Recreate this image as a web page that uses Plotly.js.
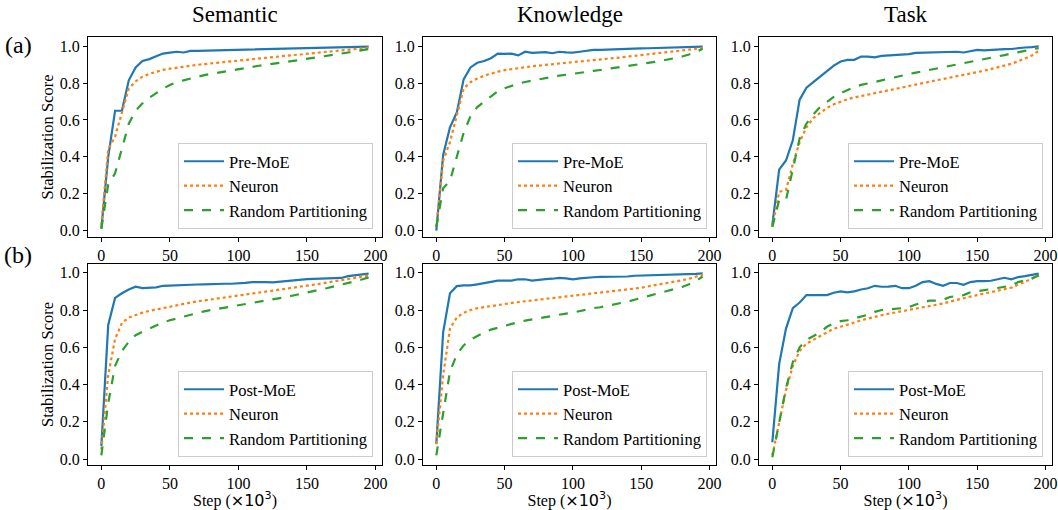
<!DOCTYPE html>
<html><head><meta charset="utf-8">
<script src="https://cdn.plot.ly/plotly-3.0.1.min.js"></script>
<style>body{margin:0;background:#fff}#chart{width:1058px;height:510px}</style>
</head><body><div id="chart"></div>
<script>
const steps = [0,5,10,15,20,25,30,35,40,45,50,55,60,65,70,75,80,85,90,95,100,105,110,115,120,125,130,135,140,145,150,155,160,165,170,175,180,185,190,195];
const columnTitles = ['Semantic','Knowledge','Task'];
const rowLabels = ['(a)','(b)'];
const namesA = ['Pre-MoE','Neuron','Random Partitioning'];
const namesB = ['Post-MoE','Neuron','Random Partitioning'];
const yTickVals = [0,0.2,0.4,0.6,0.8,1.0];
const yTickText = ['0.0','0.2','0.4','0.6','0.8','1.0'];
const xTickVals = [0,50,100,150,200];

// Row (a)
const semPreMoE = [0.01,0.40,0.65,0.65,0.815,0.885,0.92,0.93,0.945,0.96,0.965,0.97,0.966,0.975,0.975,0.976,0.978,0.979,0.98,0.981,0.982,0.982,0.983,0.984,0.984,0.985,0.986,0.987,0.988,0.988,0.989,0.99,0.991,0.992,0.993,0.994,0.995,0.996,0.997,0.998];
const semNeuronA = [0.03,0.44,0.51,0.64,0.77,0.81,0.835,0.85,0.862,0.872,0.878,0.884,0.889,0.894,0.899,0.903,0.907,0.911,0.915,0.919,0.922,0.926,0.93,0.934,0.938,0.941,0.945,0.948,0.952,0.955,0.959,0.962,0.966,0.97,0.973,0.977,0.98,0.984,0.988,0.992];
const semRandomA = [0.01,0.25,0.31,0.45,0.58,0.65,0.69,0.72,0.745,0.77,0.79,0.805,0.815,0.825,0.835,0.843,0.85,0.857,0.864,0.87,0.876,0.882,0.888,0.894,0.9,0.905,0.91,0.915,0.92,0.926,0.931,0.937,0.942,0.948,0.954,0.96,0.966,0.972,0.978,0.985];
const knoPreMoE = [0.0,0.41,0.56,0.64,0.82,0.885,0.91,0.92,0.935,0.96,0.958,0.96,0.95,0.97,0.964,0.968,0.968,0.962,0.97,0.967,0.965,0.97,0.975,0.98,0.98,0.982,0.984,0.985,0.986,0.987,0.988,0.989,0.99,0.99,0.991,0.992,0.993,0.994,0.996,0.998];
const knoNeuronA = [0.02,0.38,0.48,0.62,0.77,0.805,0.825,0.84,0.852,0.862,0.87,0.876,0.882,0.887,0.891,0.895,0.899,0.903,0.907,0.911,0.914,0.918,0.921,0.925,0.928,0.932,0.935,0.939,0.943,0.946,0.95,0.954,0.958,0.962,0.966,0.97,0.975,0.979,0.984,0.99];
const knoRandomA = [0.02,0.23,0.27,0.40,0.53,0.62,0.67,0.70,0.73,0.755,0.772,0.785,0.797,0.806,0.814,0.821,0.828,0.834,0.84,0.846,0.851,0.856,0.861,0.866,0.871,0.876,0.881,0.886,0.891,0.897,0.903,0.909,0.915,0.921,0.928,0.935,0.944,0.955,0.968,0.985];
const taskPreMoE = [0.03,0.33,0.38,0.49,0.71,0.775,0.805,0.835,0.87,0.895,0.917,0.926,0.926,0.944,0.944,0.94,0.948,0.95,0.955,0.957,0.957,0.964,0.965,0.963,0.965,0.968,0.97,0.97,0.966,0.972,0.98,0.977,0.98,0.984,0.984,0.985,0.99,0.993,0.995,1.0];
const taskNeuronA = [0.02,0.21,0.22,0.36,0.48,0.56,0.61,0.64,0.665,0.685,0.70,0.712,0.722,0.73,0.738,0.746,0.755,0.763,0.771,0.779,0.787,0.794,0.801,0.808,0.815,0.822,0.829,0.836,0.843,0.851,0.859,0.867,0.876,0.885,0.895,0.905,0.918,0.932,0.95,0.975];
const taskRandomA = [0.02,0.165,0.165,0.33,0.50,0.58,0.63,0.67,0.70,0.725,0.745,0.762,0.778,0.79,0.80,0.806,0.815,0.824,0.834,0.843,0.85,0.857,0.864,0.871,0.878,0.885,0.892,0.899,0.906,0.913,0.92,0.928,0.936,0.944,0.952,0.96,0.968,0.976,0.984,0.99];

// Row (b)
const semPostMoE = [0.07,0.72,0.865,0.89,0.91,0.925,0.918,0.92,0.922,0.93,0.932,0.934,0.934,0.937,0.937,0.938,0.94,0.94,0.941,0.941,0.942,0.946,0.95,0.952,0.95,0.948,0.952,0.955,0.96,0.965,0.966,0.967,0.968,0.97,0.972,0.972,0.982,0.985,0.99,0.995];
const semNeuronB = [0.05,0.45,0.645,0.73,0.76,0.775,0.786,0.795,0.803,0.812,0.82,0.827,0.834,0.84,0.846,0.852,0.858,0.863,0.868,0.873,0.878,0.883,0.888,0.893,0.898,0.903,0.908,0.913,0.919,0.925,0.93,0.936,0.942,0.948,0.954,0.96,0.966,0.972,0.978,0.985];
const semRandomB = [0.02,0.30,0.50,0.58,0.63,0.665,0.683,0.70,0.718,0.733,0.745,0.755,0.765,0.775,0.785,0.793,0.80,0.806,0.812,0.818,0.824,0.83,0.838,0.846,0.852,0.855,0.862,0.87,0.878,0.887,0.895,0.902,0.91,0.918,0.926,0.934,0.944,0.954,0.964,0.975];
const knoPostMoE = [0.08,0.68,0.89,0.928,0.932,0.932,0.938,0.945,0.95,0.958,0.958,0.958,0.965,0.965,0.958,0.964,0.966,0.968,0.972,0.97,0.965,0.97,0.975,0.976,0.978,0.978,0.98,0.982,0.98,0.984,0.985,0.985,0.986,0.987,0.988,0.988,0.99,0.992,0.994,0.997];
const knoNeuronB = [0.08,0.45,0.70,0.76,0.785,0.80,0.81,0.816,0.822,0.828,0.833,0.838,0.843,0.847,0.851,0.855,0.859,0.863,0.867,0.871,0.875,0.879,0.883,0.887,0.891,0.895,0.9,0.905,0.91,0.915,0.92,0.926,0.932,0.938,0.945,0.952,0.96,0.968,0.977,0.99];
const knoRandomB = [0.02,0.25,0.47,0.56,0.61,0.64,0.66,0.68,0.695,0.706,0.715,0.725,0.735,0.743,0.75,0.757,0.764,0.77,0.776,0.781,0.786,0.795,0.804,0.81,0.815,0.822,0.83,0.838,0.845,0.855,0.865,0.874,0.883,0.893,0.903,0.913,0.924,0.938,0.955,0.98];
const taskPostMoE = [0.09,0.51,0.70,0.81,0.84,0.88,0.88,0.88,0.88,0.893,0.9,0.895,0.9,0.91,0.917,0.93,0.925,0.926,0.93,0.917,0.917,0.93,0.95,0.955,0.94,0.93,0.945,0.945,0.935,0.95,0.955,0.955,0.957,0.965,0.973,0.965,0.977,0.982,0.99,0.995];
const taskNeuronB = [0.02,0.20,0.37,0.50,0.58,0.62,0.64,0.663,0.683,0.70,0.71,0.72,0.733,0.745,0.755,0.765,0.772,0.78,0.787,0.793,0.798,0.805,0.812,0.82,0.828,0.835,0.845,0.855,0.862,0.872,0.88,0.887,0.895,0.903,0.912,0.92,0.935,0.952,0.968,0.985];
const taskRandomB = [0.01,0.20,0.38,0.52,0.60,0.64,0.66,0.68,0.71,0.73,0.74,0.745,0.755,0.765,0.775,0.79,0.80,0.803,0.805,0.81,0.815,0.83,0.84,0.85,0.85,0.855,0.87,0.875,0.88,0.895,0.90,0.905,0.91,0.918,0.925,0.93,0.95,0.96,0.97,0.985];

const panels = [
  [semPreMoE, semNeuronA, semRandomA],
  [knoPreMoE, knoNeuronA, knoRandomA],
  [taskPreMoE, taskNeuronA, taskRandomA],
  [semPostMoE, semNeuronB, semRandomB],
  [knoPostMoE, knoNeuronB, knoRandomB],
  [taskPostMoE, taskNeuronB, taskRandomB]
];

const W = 1058, H = 510;
const colPx = [[88,382],[423,716],[759,1052]];
const rowPx = [[37,237],[264,465]];
const yRanges = [[-0.035,1.05],[-0.032,1.047]];
const colors = ['#1f77b4','#ff7f0e','#2ca02c'];
const dashes = ['solid','dot','dash'];
const serif = '"Liberation Serif", "Times New Roman", serif';

const traces = [];
const layout = {
  width: W, height: H,
  margin: {l:0, r:0, t:0, b:0},
  paper_bgcolor: '#ffffff', plot_bgcolor: '#ffffff',
  font: {family: serif, size: 16, color: '#000'},
  showlegend: true,
  annotations: []
};

panels.forEach((series, p) => {
  const r = Math.floor(p / 3), c = p % 3;
  const idx = p + 1;
  const sfx = idx === 1 ? '' : String(idx);
  const xa = 'xaxis' + sfx;
  const ya = 'yaxis' + sfx;
  const lg = 'legend' + sfx;
  const names = r === 0 ? namesA : namesB;
  series.forEach((vals, s) => {
    traces.push({
      x: steps, y: vals, type: 'scatter', mode: 'lines',
      name: names[s],
      xaxis: 'x' + sfx, yaxis: 'y' + sfx,
      legend: lg,
      line: {color: colors[s], width: 2.2, dash: dashes[s]}
    });
  });
  const axCommon = {
    showline: true, mirror: true, linecolor: '#000', linewidth: 1,
    showgrid: false, zeroline: false,
    ticks: 'outside', ticklen: 4, tickwidth: 1, tickcolor: '#000',
    tickfont: {family: serif, size: 16, color: '#000'}
  };
  layout[xa] = Object.assign({}, axCommon, {
    domain: [colPx[c][0]/W, colPx[c][1]/W],
    anchor: 'y' + sfx,
    range: [-9.75, 204.75],
    tickvals: xTickVals,
    ticktext: xTickVals.map(String)
  });
  if (r === 1) {
    layout[xa].title = {
      text: 'Step (<span style="font-family:DejaVu Sans">×10<sup>3</sup></span>)',
      font: {family: serif, size: 16, color: '#000'},
      standoff: 4
    };
  }
  layout[ya] = Object.assign({}, axCommon, {
    domain: [1 - rowPx[r][1]/H, 1 - rowPx[r][0]/H],
    anchor: 'x' + sfx,
    range: yRanges[r],
    tickvals: yTickVals,
    ticktext: yTickText
  });
  if (c === 0) {
    layout[ya].title = {
      text: 'Stabilization Score',
      font: {family: serif, size: 16.5, color: '#000'},
      standoff: 2
    };
  }
  layout[lg] = {
    x: (colPx[c][1] - 9)/W, xanchor: 'right',
    y: 1 - (rowPx[r][1] - 8)/H, yanchor: 'bottom',
    bgcolor: 'rgba(255,255,255,0.85)',
    bordercolor: '#cccccc', borderwidth: 1,
    font: {family: serif, size: 16.5, color: '#000'},
    itemwidth: 40
  };
});

columnTitles.forEach((t, c) => {
  layout.annotations.push({
    text: t, xref: 'paper', yref: 'paper',
    x: (colPx[c][0] + colPx[c][1]) / 2 / W, y: 1 - 14/H,
    xanchor: 'center', yanchor: 'middle', showarrow: false,
    font: {family: serif, size: 23, color: '#000'}
  });
});
rowLabels.forEach((t, r) => {
  layout.annotations.push({
    text: t, xref: 'paper', yref: 'paper',
    x: 18/W, y: 1 - [45, 255][r]/H,
    xanchor: 'center', yanchor: 'middle', showarrow: false,
    font: {family: serif, size: 24, color: '#000'}
  });
});

Plotly.newPlot('chart', traces, layout, {displayModeBar: false, staticPlot: true});
</script>
</body></html>
